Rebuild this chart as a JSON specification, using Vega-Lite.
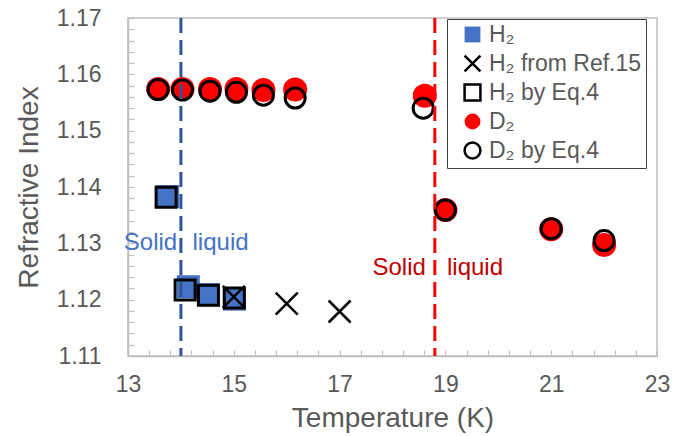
{
  "$schema": "https://vega.github.io/schema/vega-lite/v6.json",
  "autosize": {"type": "none"},
  "width": 529,
  "height": 338,
  "padding": {"left": 128, "top": 18, "right": 31, "bottom": 80},
  "background": "white",
  "config": {
    "font": "Liberation Sans",
    "view": {"stroke": "#bfbfbf", "strokeWidth": 1.5},
    "axis": {
      "labelColor": "#595959",
      "titleColor": "#595959",
      "domainColor": "#bfbfbf",
      "domainWidth": 1.5,
      "tickColor": "#bfbfbf",
      "tickWidth": 1.2,
      "tickSize": -6,
      "grid": false,
      "labelFontSize": 23,
      "titleFontSize": 28,
      "titleFontWeight": "normal",
      "labelOverlap": false,
      "labelFlush": false
    },
    "legend": {
      "labelFontSize": 23,
      "labelColor": "#595959",
      "labelFont": "Liberation Sans"
    }
  },
  "datasets": {
    "points": [
      {"series": "H₂", "T": 13.75, "n": 1.1383},
      {"series": "H₂", "T": 14.14, "n": 1.1223},
      {"series": "H₂", "T": 14.52, "n": 1.1209},
      {"series": "H₂", "T": 15.01, "n": 1.1201},
      {"series": "D₂", "T": 13.57, "n": 1.1574},
      {"series": "D₂", "T": 14.03, "n": 1.1574},
      {"series": "D₂", "T": 14.55, "n": 1.1574},
      {"series": "D₂", "T": 15.05, "n": 1.1574},
      {"series": "D₂", "T": 15.56, "n": 1.1572},
      {"series": "D₂", "T": 16.16, "n": 1.1573},
      {"series": "D₂", "T": 18.61, "n": 1.1562},
      {"series": "D₂", "T": 19.0, "n": 1.1359},
      {"series": "D₂", "T": 21.0, "n": 1.1325},
      {"series": "D₂", "T": 22.0, "n": 1.1297},
      {"series": "H₂ by Eq.4", "T": 13.72, "n": 1.1382},
      {"series": "H₂ by Eq.4", "T": 14.08, "n": 1.1217},
      {"series": "H₂ by Eq.4", "T": 14.52, "n": 1.1208},
      {"series": "H₂ by Eq.4", "T": 15.01, "n": 1.1203},
      {"series": "D₂ by Eq.4", "T": 13.57, "n": 1.1573},
      {"series": "D₂ by Eq.4", "T": 14.03, "n": 1.1572},
      {"series": "D₂ by Eq.4", "T": 14.55, "n": 1.157},
      {"series": "D₂ by Eq.4", "T": 15.05, "n": 1.1568},
      {"series": "D₂ by Eq.4", "T": 15.56, "n": 1.1563},
      {"series": "D₂ by Eq.4", "T": 16.16, "n": 1.1558},
      {"series": "D₂ by Eq.4", "T": 18.58, "n": 1.154},
      {"series": "D₂ by Eq.4", "T": 19.0, "n": 1.1359},
      {"series": "D₂ by Eq.4", "T": 21.0, "n": 1.1326},
      {"series": "D₂ by Eq.4", "T": 22.0, "n": 1.1305},
      {"series": "H₂ from Ref.15", "T": 15.0, "n": 1.1205},
      {"series": "H₂ from Ref.15", "T": 16.0, "n": 1.1193},
      {"series": "H₂ from Ref.15", "T": 17.0, "n": 1.1179}
    ],
    "melting": [
      {"phase": "H2", "T": 14.0},
      {"phase": "D2", "T": 18.8}
    ],
    "notes": [
      {"phase": "H2", "side": "solid", "T": 13.93, "n": 1.13, "label": "Solid"},
      {"phase": "H2", "side": "liquid", "T": 14.22, "n": 1.13, "label": "liquid"},
      {"phase": "D2", "side": "solid", "T": 18.63, "n": 1.1256, "label": "Solid"},
      {"phase": "D2", "side": "liquid", "T": 19.03, "n": 1.1256, "label": "liquid"}
    ]
  },
  "encoding": {
    "x": {
      "field": "T", "type": "quantitative",
      "scale": {"domain": [13, 23], "nice": false, "zero": false},
      "axis": {
        "title": "Temperature (K)",
        "values": [13, 13.4, 13.8, 14.2, 14.6, 15, 15.4, 15.8, 16.2, 16.6, 17, 17.4, 17.8, 18.2, 18.6, 19, 19.4, 19.8, 20.2, 20.6, 21, 21.4, 21.8, 22.2, 22.6, 23],
        "format": ".1f",
        "labelExpr": "abs(datum.value - round(datum.value)) < 0.01 && round(datum.value) % 2 == 1 ? format(datum.value, 'd') : ''",
        "labelPadding": 23,
        "titlePadding": 8
      }
    },
    "y": {
      "field": "n", "type": "quantitative",
      "scale": {"domain": [1.11, 1.17], "nice": false, "zero": false},
      "axis": {
        "title": "Refractive Index",
        "values": [1.11, 1.112, 1.114, 1.116, 1.118, 1.12, 1.122, 1.124, 1.126, 1.128, 1.13, 1.132, 1.134, 1.136, 1.138, 1.14, 1.142, 1.144, 1.146, 1.148, 1.15, 1.152, 1.154, 1.156, 1.158, 1.16, 1.162, 1.164, 1.166, 1.168, 1.17],
        "format": ".3f",
        "labelExpr": "round(datum.value * 1000) % 10 == 0 ? format(datum.value, '.2f') : ''",
        "labelPadding": 33,
        "titlePadding": 13
      }
    }
  },
  "layer": [
    {
      "data": {"name": "points"},
      "encoding": {
        "shape": {
          "field": "series", "type": "nominal",
          "scale": {
            "domain": ["H₂", "H₂ from Ref.15", "H₂ by Eq.4", "D₂", "D₂ by Eq.4"],
            "range": ["square", "M-1,-1L1,1M-1,1L1,-1", "square", "circle", "circle"]
          },
          "legend": {
            "title": null,
            "orient": "none",
            "legendX": 319,
            "legendY": 1,
            "strokeColor": "#404040",
            "fillColor": "white",
            "padding": 4,
            "symbolOffset": 10,
            "symbolSize": 250,
            "symbolStrokeWidth": 2.5,
            "rowPadding": 2,
            "labelOffset": 5
          }
        },
        "fill": {
          "field": "series", "type": "nominal",
          "scale": {
            "domain": ["H₂", "H₂ from Ref.15", "H₂ by Eq.4", "D₂", "D₂ by Eq.4"],
            "range": ["#4472c4", "transparent", "transparent", "#ff0000", "transparent"]
          },
          "legend": {
            "title": null,
            "orient": "none",
            "legendX": 319,
            "legendY": 1,
            "strokeColor": "#404040",
            "fillColor": "white",
            "padding": 4,
            "symbolOffset": 10,
            "symbolSize": 250,
            "symbolStrokeWidth": 2.5,
            "rowPadding": 2,
            "labelOffset": 5
          }
        },
        "stroke": {
          "field": "series", "type": "nominal",
          "scale": {
            "domain": ["H₂", "H₂ from Ref.15", "H₂ by Eq.4", "D₂", "D₂ by Eq.4"],
            "range": ["transparent", "black", "black", "transparent", "black"]
          },
          "legend": {
            "title": null,
            "orient": "none",
            "legendX": 319,
            "legendY": 1,
            "strokeColor": "#404040",
            "fillColor": "white",
            "padding": 4,
            "symbolOffset": 10,
            "symbolSize": 250,
            "symbolStrokeWidth": 2.5,
            "rowPadding": 2,
            "labelOffset": 5
          }
        }
      },
      "layer": [
        {
          "transform": [{"filter": "datum.series == 'H₂'"}],
          "mark": {"type": "point", "opacity": 1, "size": 529, "strokeWidth": 0}
        },
        {
          "transform": [{"filter": "datum.series == 'D₂'"}],
          "mark": {"type": "point", "opacity": 1, "size": 576, "strokeWidth": 0}
        },
        {
          "transform": [{"filter": "datum.series == 'H₂ by Eq.4'"}],
          "mark": {"type": "point", "opacity": 1, "size": 400, "strokeWidth": 3}
        },
        {
          "transform": [{"filter": "datum.series == 'D₂ by Eq.4'"}],
          "mark": {"type": "point", "opacity": 1, "size": 400, "strokeWidth": 3}
        },
        {
          "transform": [{"filter": "datum.series == 'H₂ from Ref.15'"}],
          "mark": {"type": "point", "opacity": 1, "size": 484, "strokeWidth": 2.5}
        }
      ]
    },
    {
      "data": {"name": "melting"},
      "transform": [{"filter": "datum.phase == 'H2'"}],
      "mark": {"type": "rule", "color": "#2f5597", "strokeWidth": 3, "strokeDash": [15, 7]},
      "encoding": {"y": null}
    },
    {
      "data": {"name": "melting"},
      "transform": [{"filter": "datum.phase == 'D2'"}],
      "mark": {"type": "rule", "color": "#ff0000", "strokeWidth": 3, "strokeDash": [15, 7]},
      "encoding": {"y": null}
    },
    {
      "data": {"name": "notes"},
      "transform": [{"filter": "datum.side == 'solid'"}],
      "mark": {"type": "text", "align": "right", "baseline": "middle", "fontSize": 24},
      "encoding": {
        "text": {"field": "label"},
        "color": {"field": "phase", "type": "nominal", "scale": {"domain": ["H2", "D2"], "range": ["#4472c4", "#c00000"]}, "legend": null}
      }
    },
    {
      "data": {"name": "notes"},
      "transform": [{"filter": "datum.side == 'liquid'"}],
      "mark": {"type": "text", "align": "left", "baseline": "middle", "fontSize": 24},
      "encoding": {
        "text": {"field": "label"},
        "color": {"field": "phase", "type": "nominal", "scale": {"domain": ["H2", "D2"], "range": ["#4472c4", "#c00000"]}, "legend": null}
      }
    }
  ]
}
